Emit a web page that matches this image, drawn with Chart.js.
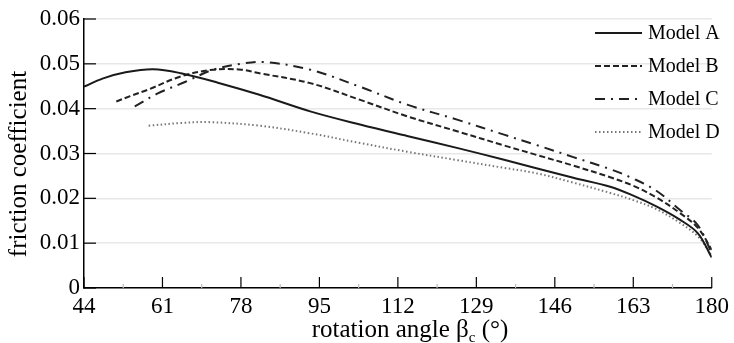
<!DOCTYPE html>
<html>
<head>
<meta charset="utf-8">
<script src="https://cdn.jsdelivr.net/npm/chart.js@4"></script>
<style>
  html, body { margin: 0; padding: 0; background: #fff; }
  #wrap { width: 734px; height: 343px; }
</style>
</head>
<body>
<div id="wrap"><canvas id="chart" width="734" height="343"></canvas></div>
<script>
// dados
const xTicks = [44, 61, 78, 95, 112, 129, 146, 163, 180];
const yTicks = [0, 0.01, 0.02, 0.03, 0.04, 0.05, 0.06];
const seriesNames = ['Model A', 'Model B', 'Model C', 'Model D'];

const angleA = [44, 48, 53, 59, 65, 73, 82, 93, 104, 114, 125, 135, 142, 150, 158, 163, 168, 173, 177, 180];
const frictionA = [0.0449, 0.0467, 0.0481, 0.0488, 0.0479, 0.0458, 0.0431, 0.0394, 0.0364, 0.0339, 0.0312, 0.0286, 0.0267, 0.0246, 0.0226, 0.0206, 0.0182, 0.0153, 0.0122, 0.0068];

const angleB = [51, 54, 58, 65, 72, 78, 82, 93, 104, 114, 125, 135, 142, 150, 158, 163, 168, 173, 177, 180];
const frictionB = [0.0416, 0.0428, 0.0443, 0.0472, 0.0487, 0.0487, 0.0479, 0.0457, 0.0419, 0.0383, 0.0349, 0.0318, 0.0297, 0.0273, 0.0247, 0.0228, 0.0202, 0.0168, 0.0134, 0.0085];

const angleC = [55, 60, 66, 72, 78, 83, 93, 104, 114, 125, 135, 142, 150, 158, 163, 168, 173, 177, 180];
const frictionC = [0.0405, 0.0434, 0.0460, 0.0487, 0.0500, 0.0504, 0.0487, 0.0448, 0.0409, 0.0375, 0.0342, 0.0319, 0.0292, 0.0265, 0.0244, 0.0217, 0.0175, 0.0140, 0.0078];

const angleD = [58, 65, 71, 82, 93, 104, 114, 125, 135, 142, 150, 158, 163, 168, 173, 177, 180];
const frictionD = [0.0362, 0.0368, 0.0370, 0.0362, 0.0345, 0.0323, 0.0304, 0.0285, 0.0268, 0.0256, 0.0235, 0.0212, 0.0196, 0.0176, 0.0146, 0.0115, 0.0072];

const FONT = 'Liberation Serif';

function pts(xs, ys) {
    return xs.map((x, i) => ({ x: x, y: ys[i] }));
}

const styles = [
    { color: '#1a1a1a', dash: [], width: 2 },
    { color: '#222', dash: [6, 3], width: 2 },
    { color: '#222', dash: [10, 6, 2, 6], width: 2 },
    { color: '#777', dash: [1.5, 2.5], width: 2 }
];

const seriesData = [pts(angleA, frictionA), pts(angleB, frictionB), pts(angleC, frictionC), pts(angleD, frictionD)];

// plugin: ticks pra dentro, legenda e títulos dos eixos
const extras = {
    id: 'extras',
    afterDraw(chart) {
        const ctx = chart.ctx;
        const xs = chart.scales.x, ys = chart.scales.y;
        const area = chart.chartArea;
        ctx.save();
        // x ticks (maiores e menores)
        xTicks.forEach((t, i) => {
            const px = xs.getPixelForValue(t);
            ctx.strokeStyle = '#000';
            ctx.lineWidth = 1.2;
            ctx.beginPath();
            ctx.moveTo(px, area.bottom);
            ctx.lineTo(px, area.bottom - 11);
            ctx.stroke();
            if (i < xTicks.length - 1) {
                const mx = xs.getPixelForValue((t + xTicks[i + 1]) / 2);
                ctx.strokeStyle = '#bbb';
                ctx.beginPath();
                ctx.moveTo(mx, area.bottom);
                ctx.lineTo(mx, area.bottom - 4);
                ctx.stroke();
            }
        });
        // y ticks
        yTicks.forEach(t => {
            const py = ys.getPixelForValue(t);
            ctx.strokeStyle = '#000';
            ctx.lineWidth = 1.2;
            ctx.beginPath();
            ctx.moveTo(area.left, py);
            ctx.lineTo(area.left + 12, py);
            ctx.stroke();
        });

        // legenda
        ctx.font = '20px "' + FONT + '"';
        ctx.textBaseline = 'middle';
        ctx.textAlign = 'left';
        const rows = [33, 66, 99, 132];
        seriesNames.forEach((name, i) => {
            const st = styles[i];
            ctx.strokeStyle = st.color;
            ctx.lineWidth = st.width;
            ctx.setLineDash(st.dash);
            ctx.beginPath();
            ctx.moveTo(595, rows[i]);
            ctx.lineTo(642, rows[i]);
            ctx.stroke();
            ctx.setLineDash([]);
            ctx.fillStyle = '#000';
            ctx.fillText(name, 648, rows[i] + 1);
        });

        // título do eixo x com subscrito
        ctx.fillStyle = '#000';
        ctx.textBaseline = 'alphabetic';
        const main1 = 'rotation angle β';
        const sub = 'c';
        const main2 = ' (°)';
        ctx.font = '25px "' + FONT + '"';
        const w1 = ctx.measureText(main1).width;
        const w3 = ctx.measureText(main2).width;
        ctx.font = '15px "' + FONT + '"';
        const w2 = ctx.measureText(sub).width;
        const total = w1 + w2 + w3;
        let sx = 410 - total / 2;
        const base = 337;
        ctx.font = '25px "' + FONT + '"';
        ctx.fillText(main1, sx, base);
        ctx.font = '15px "' + FONT + '"';
        ctx.fillText(sub, sx + w1, base + 5);
        ctx.font = '25px "' + FONT + '"';
        ctx.fillText(main2, sx + w1 + w2, base);

        // título do eixo y
        ctx.translate(19, 164);
        ctx.rotate(-Math.PI / 2);
        ctx.textAlign = 'center';
        ctx.textBaseline = 'middle';
        ctx.fillText('friction coefficient', 0, 0);
        ctx.restore();
    }
};

const ctx = document.getElementById('chart').getContext('2d');
const chart = new Chart(ctx, {
    type: 'line',
    data: {
        datasets: seriesNames.map((name, i) => ({
            label: name,
            data: seriesData[i],
            borderColor: styles[i].color,
            borderWidth: styles[i].width,
            borderDash: styles[i].dash,
            pointRadius: 0,
            fill: false,
            tension: 0.35
        }))
    },
    options: {
        responsive: false,
        animation: false,
        layout: { padding: { top: 19, right: 20, left: 0, bottom: 0 } },
        plugins: {
            legend: { display: false },
            tooltip: { enabled: false }
        },
        scales: {
            x: {
                type: 'linear',
                min: 44,
                max: 180,
                afterBuildTicks: (scale) => { scale.ticks = xTicks.map(v => ({ value: v })); },
                afterFit: (scale) => { scale.height = 55; },
                ticks: {
                    color: '#000',
                    padding: 5,
                    maxRotation: 0,
                    font: { family: FONT, size: 23 }
                },
                grid: { display: false, drawTicks: false },
                border: { color: '#000', width: 1.5 }
            },
            y: {
                min: 0,
                max: 0.06,
                afterBuildTicks: (scale) => { scale.ticks = yTicks.map(v => ({ value: v })); },
                afterFit: (scale) => { scale.width = 84; },
                ticks: {
                    color: '#000',
                    padding: 4,
                    font: { family: FONT, size: 23 },
                    callback: (v) => v === 0 ? '0' : v.toFixed(2)
                },
                grid: { color: '#e8e8e8', lineWidth: 1.5, drawTicks: false },
                border: { color: '#000', width: 1.5 }
            }
        }
    },
    plugins: [extras]
});
</script>
</body>
</html>
